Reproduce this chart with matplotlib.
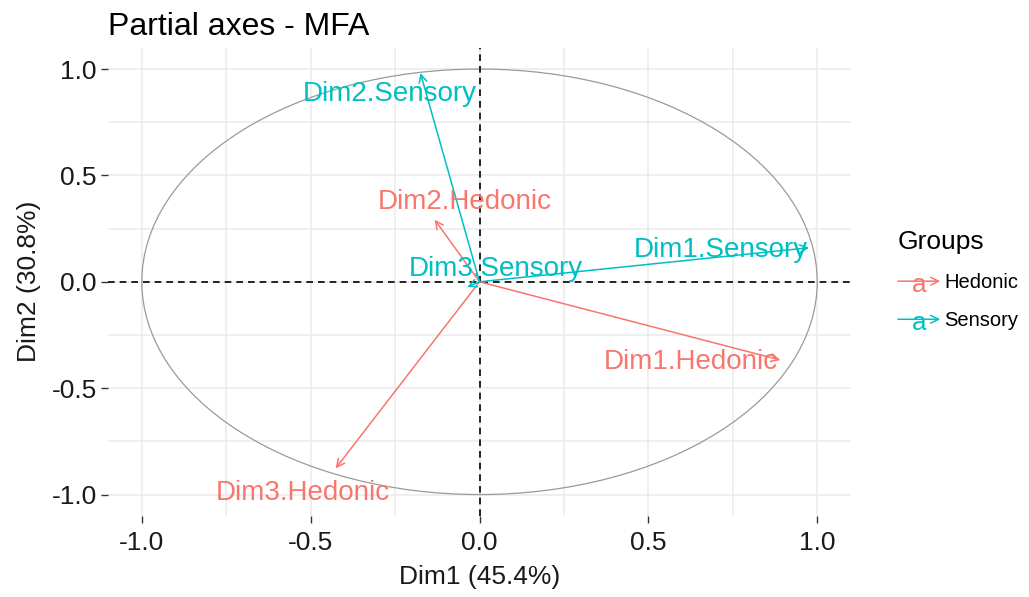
import numpy as np
import matplotlib
matplotlib.use('Agg')
import matplotlib.pyplot as plt
from matplotlib.patches import FancyArrowPatch, Ellipse
from matplotlib.legend_handler import HandlerBase
from matplotlib.lines import Line2D
from matplotlib.text import Text

plt.rcParams['font.family'] = ['Liberation Sans', 'DejaVu Sans']

# partial axes coordinates
names = ['Dim1.Hedonic', 'Dim2.Hedonic', 'Dim3.Hedonic',
         'Dim1.Sensory', 'Dim2.Sensory', 'Dim3.Sensory']
groups = ['Hedonic', 'Hedonic', 'Hedonic', 'Sensory', 'Sensory', 'Sensory']
dim1 = [0.891, -0.133, -0.426, 0.976, -0.175, -0.036]
dim2 = [-0.368, 0.292, -0.877, 0.160, 0.981, -0.024]
# where the (repelled) labels ended up
label_x = [0.626, -0.043, -0.524, 0.714, -0.265, 0.047]
label_y = [-0.377, 0.377, -0.991, 0.151, 0.882, 0.061]

ticks = [-1.0, -0.5, 0.0, 0.5, 1.0]
tick_labels = ['-1.0', '-0.5', '0.0', '0.5', '1.0']
minor_ticks = [-0.75, -0.25, 0.25, 0.75]

colors = {'Hedonic': '#F8766D', 'Sensory': '#00BFC4'}

fig = plt.figure(figsize=(10.29, 5.97), dpi=100)
ax = fig.add_axes([0.105, 0.136, 0.722, 0.784])

ax.set_xlim(-1.1, 1.1)
ax.set_ylim(-1.1, 1.1)
ax.set_xticks(ticks)
ax.set_xticklabels(tick_labels)
ax.set_yticks(ticks)
ax.set_yticklabels(tick_labels)
ax.set_xticks(minor_ticks, minor=True)
ax.set_yticks(minor_ticks, minor=True)
ax.grid(which='both', color='#EBEBEB', lw=1.1, zorder=0)
ax.set_axisbelow(True)
ax.tick_params(which='minor', length=0)
ax.tick_params(which='major', length=5, width=1, color='#333333',
               labelsize=19, labelcolor='#1a1a1a')
ax.tick_params(axis='x', pad=6)
ax.tick_params(axis='y', pad=3)
for s in ax.spines.values():
    s.set_visible(False)

# correlation circle
ax.add_patch(Ellipse((0, 0), 2, 2, fill=False, ec='#9a9a9a', lw=0.9, zorder=1))
ax.axhline(0, color='black', ls=(0, (4, 3)), lw=1.2, zorder=2)
ax.axvline(0, color='black', ls=(0, (4, 3)), lw=1.2, zorder=2)

for n, g, x, y, lx, ly in zip(names, groups, dim1, dim2, label_x, label_y):
    c = colors[g]
    ax.annotate('', xy=(x, y), xytext=(0, 0),
                arrowprops=dict(arrowstyle='->', color=c, lw=1.1,
                                shrinkA=0, shrinkB=0, mutation_scale=14),
                zorder=3)
    ax.text(lx, ly, n, color=c, fontsize=20, ha='center', va='center', zorder=4)

ax.set_xlabel('Dim1 (45.4%)', fontsize=19, color='#1a1a1a', labelpad=7)
ax.set_ylabel('Dim2 (30.8%)', fontsize=19, color='#1a1a1a', labelpad=8)
ax.set_title('Partial axes - MFA', loc='left', fontsize=23, pad=9)


class ArrowKey(HandlerBase):
    def create_artists(self, legend, orig_handle, xdescent, ydescent,
                       width, height, fontsize, trans):
        c = orig_handle.get_color()
        ymid = height / 2 - ydescent
        arr = FancyArrowPatch((-xdescent, ymid), (width - xdescent, ymid),
                              arrowstyle='->', mutation_scale=14, color=c,
                              lw=1.1, shrinkA=0, shrinkB=0, transform=trans)
        txt = Text(width / 2 - xdescent, ymid - 3, 'a', color=c, ha='center',
                   va='center', fontsize=fontsize * 1.3, transform=trans)
        return [arr, txt]


handles = [Line2D([], [], color=colors[g]) for g in ['Hedonic', 'Sensory']]
leg = fig.legend(handles, ['Hedonic', 'Sensory'], title='Groups',
                 loc='upper left', bbox_to_anchor=(0.855, 0.645),
                 frameon=False, fontsize=14.5, title_fontsize=19,
                 handlelength=2.1, handletextpad=0.2, labelspacing=0.95,
                 handler_map={Line2D: ArrowKey()})
leg._legend_box.align = 'left'

fig.savefig('out.png', dpi=100)
